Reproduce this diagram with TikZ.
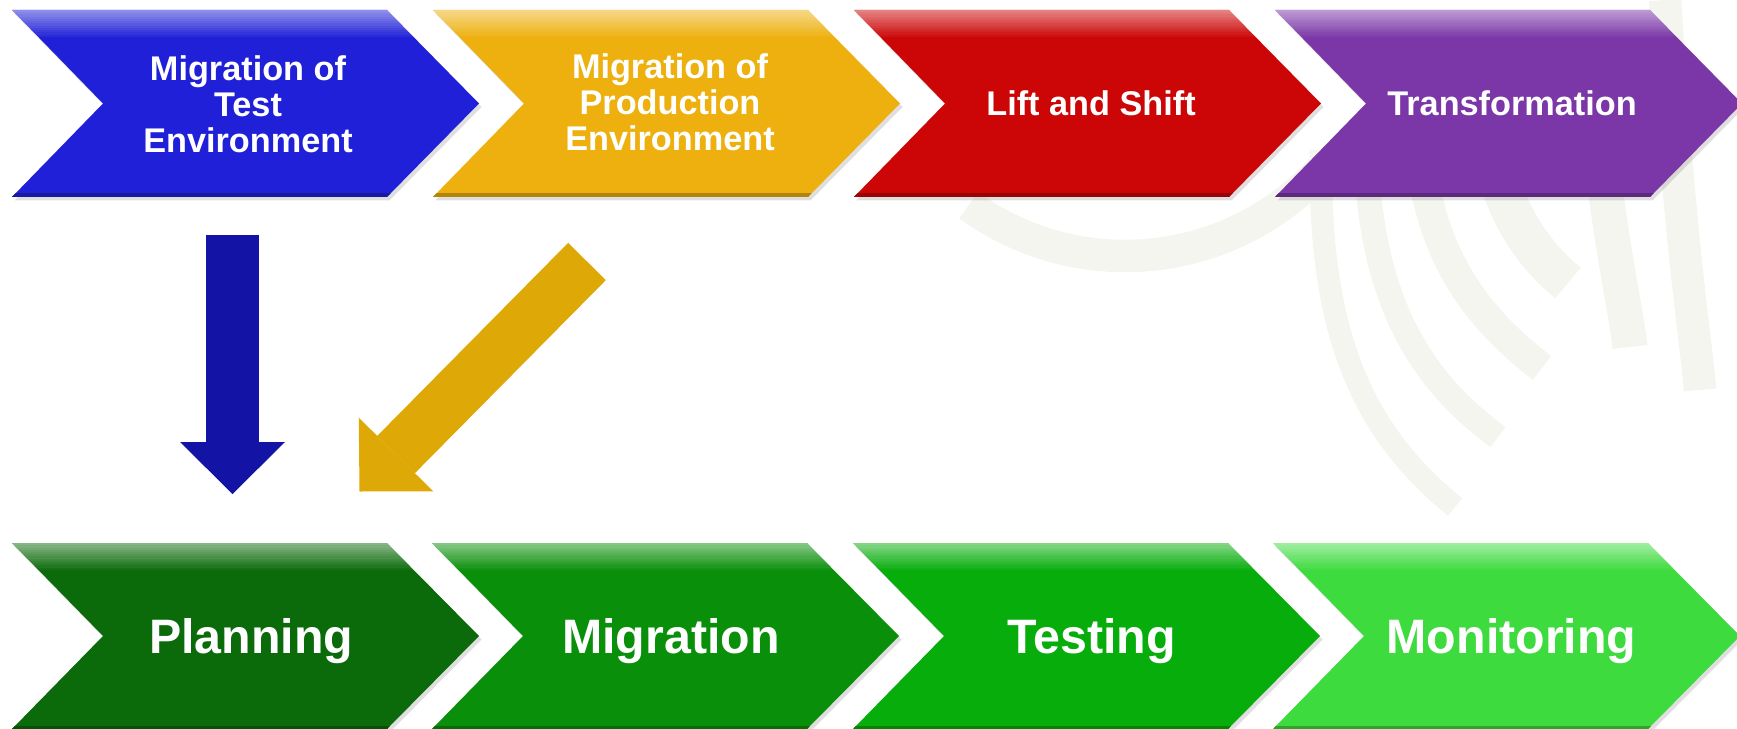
\documentclass[tikz,border=0pt]{standalone}
\usepackage{fontspec}
\setmainfont{Liberation Sans}
\usepackage{xcolor}
\usepackage{tikz}
\usetikzlibrary{arrows.meta,shadows}

\definecolor{chevblue}{HTML}{2020D8}
\definecolor{chevgold}{HTML}{EDB00E}
\definecolor{chevred}{HTML}{CC0606}
\definecolor{chevpurple}{HTML}{7B36A8}
\definecolor{greenA}{HTML}{0B6B0B}
\definecolor{greenB}{HTML}{098F09}
\definecolor{greenC}{HTML}{06AD0B}
\definecolor{greenD}{HTML}{3DDB3D}
\definecolor{arrowblue}{HTML}{1313A6}
\definecolor{arrowgold}{HTML}{DEA806}
\definecolor{arcgrey}{HTML}{F4F5EF}

\tikzset{
  chevron/.style={fill=#1,
    drop shadow={shadow xshift=0.05cm, shadow yshift=-0.07cm, opacity=0.25},
    path picture={
      \foreach \k in {0,...,11}
        \fill[white, fill opacity={0.5-0.041*\k}]
          ([yshift=-\k*0.045cm]path picture bounding box.north west) rectangle
          ([yshift=-\k*0.045cm-0.045cm]path picture bounding box.north east);
      \fill[#1!75!black]
        ([yshift=0.07cm]path picture bounding box.south west) rectangle (path picture bounding box.south east);
    }},
  toplabel/.style={text=white, align=center, font=\bfseries\fontsize{19.5}{20.5}\selectfont},
  botlabel/.style={text=white, anchor=base, font=\bfseries\fontsize{27.5}{30}\selectfont},
  bigarrow/.style={draw=#1, line width=1.06cm,
    -{Triangle[length=1.04cm, width=2.1cm, line width=0pt]}},
  watermark/.style={draw=arcgrey, line width=#1},
}

\begin{document}
\begin{tikzpicture}[x=0.02cm, y=0.02cm]
                \useasboundingbox (0,0) rectangle (1737,-729);
                \clip (0,0) rectangle (1737,-729);
                % faint logo in the background
                \draw [watermark=0.65cm] (1125,10) ++(234:266) arc (234:320:266);
                \draw [watermark=0.45cm] (1321,-150) .. controls (1318,-330) and (1360,-430) .. (1455,-507);
                \draw [watermark=0.5cm] (1366,-150) .. controls (1370,-300) and (1420,-380) .. (1498,-437);
                \draw [watermark=0.6cm] (1420,-150) .. controls (1430,-260) and (1480,-320) .. (1542,-368);
                \draw [watermark=0.8cm] (1492,-150) .. controls (1505,-220) and (1540,-260) .. (1568,-283);
                \draw [watermark=0.7cm] (1590,-40) .. controls (1605,-230) and (1625,-300) .. (1630,-347);
                \draw [watermark=0.65cm] (1665,0) .. controls (1680,-250) and (1695,-330) .. (1700,-390);
                % top row
                \fill [chevron=chevblue] (12,-10) -- (387,-10) -- (479,-103.5) -- (387,-197) -- (12,-197) -- (103,-103.5) -- cycle;
                \node [toplabel] (mtest) at (248,-104) {Migration of\\Test\\Environment};
                \fill [chevron=chevgold] (433,-10) -- (808,-10) -- (900,-103.5) -- (808,-197) -- (433,-197) -- (524,-103.5) -- cycle;
                \node [toplabel] (mprod) at (670,-102) {Migration of\\Production\\Environment};
                \fill [chevron=chevred] (854,-10) -- (1229,-10) -- (1321,-103.5) -- (1229,-197) -- (854,-197) -- (945,-103.5) -- cycle;
                \node [toplabel] (lift) at (1091,-103) {Lift and Shift};
                \fill [chevron=chevpurple] (1275,-10) -- (1650,-10) -- (1742,-103.5) -- (1650,-197) -- (1275,-197) -- (1366,-103.5) -- cycle;
                \node [toplabel] (trans) at (1512,-103) {Transformation};
                % bottom row
                \fill [chevron=greenA] (12,-543) -- (387,-543) -- (479,-636) -- (387,-729) -- (12,-729) -- (103,-636) -- cycle;
                \node [botlabel] (plan) at (251,-653) {Planning};
                \fill [chevron=greenB] (432,-543) -- (807,-543) -- (899,-636) -- (807,-729) -- (432,-729) -- (523,-636) -- cycle;
                \node [botlabel] (migr) at (671,-653) {Migration};
                \fill [chevron=greenC] (853,-543) -- (1228,-543) -- (1320,-636) -- (1228,-729) -- (853,-729) -- (944,-636) -- cycle;
                \node [botlabel] (test) at (1091.5,-653) {Testing};
                \fill [chevron=greenD] (1273,-543) -- (1648,-543) -- (1740,-636) -- (1648,-729) -- (1273,-729) -- (1364,-636) -- cycle;
                \node [botlabel] (moni) at (1511.5,-653) {Monitoring};
                % arrows between the rows
                \coordinate (bluetail) at (232.5,-235);
                \coordinate (bluehead) at (232.5,-494);
                \coordinate (goldtail) at (587,-261.5);
                \coordinate (goldhead) at (359.5,-491.5);
                \draw [bigarrow=arrowblue] (bluetail) -- (bluehead);
                \draw [bigarrow=arrowgold] (goldtail) -- (goldhead);
\end{tikzpicture}
\end{document}
